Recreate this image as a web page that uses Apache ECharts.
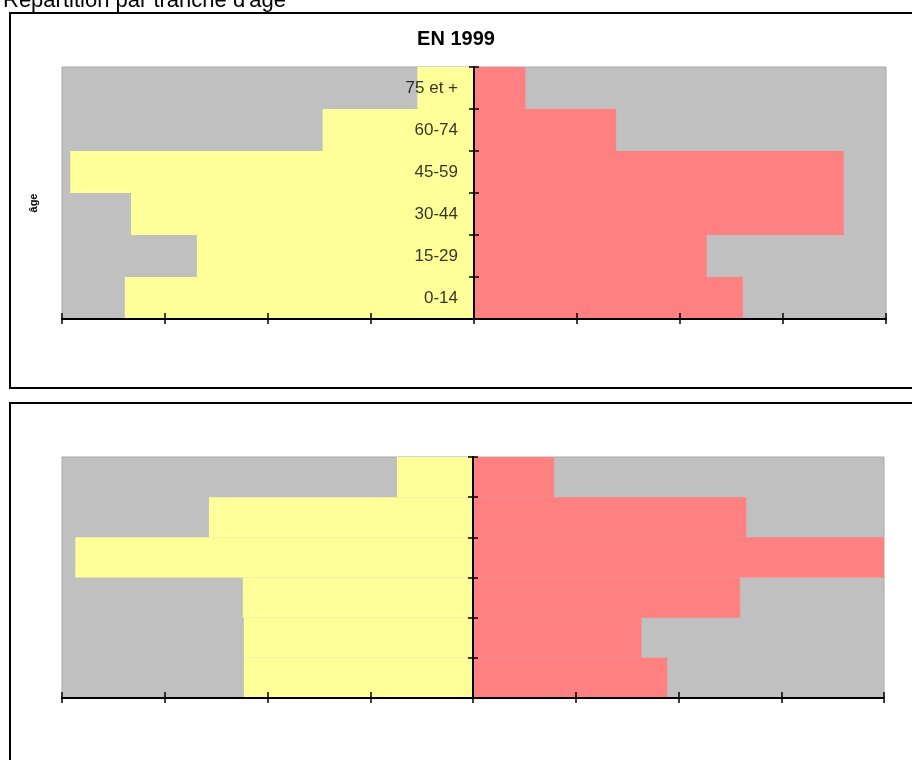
<!DOCTYPE html>
<html>
<head>
<meta charset="utf-8">
<title>Répartition par tranche d'âge</title>
<script src="https://cdn.jsdelivr.net/npm/echarts@6/dist/echarts.min.js"></script>
<style>
  html, body { margin: 0; padding: 0; background: #ffffff; }
  #chart { width: 912px; height: 760px; }
</style>
</head>
<body>
<div id="chart"></div>
<script>
// Age groups, from youngest (bottom) to oldest (top)
const ageGroups = ['0-14', '15-29', '30-44', '45-59', '60-74', '75 et +'];

// Upper pyramid (1999): left side drawn as negative values
const left1999 = [339, 269, 333, 392, 147, 55];
const right1999 = [261, 226, 359, 359, 138, 50];

// Lower pyramid
const leftLower = [223, 223, 224, 387, 257, 74];
const rightLower = [189, 164, 260, 400, 266, 79];

// Horizontal scale (labels hidden)
const axisMin = -400;
const axisMax = 400;
const axisStep = 100;

const FONT = '"Liberation Sans", Arial, sans-serif';
const YELLOW = '#FFFF99';
const RED = '#FF8080';

const chart = echarts.init(document.getElementById('chart'), null, { renderer: 'canvas' });

function valueAxis(gridIndex, inner) {
  return {
    type: 'value', gridIndex: gridIndex, position: 'bottom', z: 5,
    min: axisMin, max: axisMax, interval: axisStep,
    axisLabel: { show: false },
    splitLine: { show: false },
    axisLine: { show: !inner, onZero: false, lineStyle: { color: '#000', width: 2 } },
    axisTick: { show: true, inside: inner, length: inner ? 6 : 5, lineStyle: { color: '#000', width: 1.5 } }
  };
}

function ageAxis(gridIndex, zeroOf, inner) {
  return {
    type: 'category', gridIndex: gridIndex, position: 'left', z: 5,
    data: ageGroups,
    boundaryGap: true,
    axisLine: { show: !inner, onZero: true, onZeroAxisIndex: zeroOf, lineStyle: { color: '#000', width: 2 } },
    axisTick: { show: true, inside: inner, length: 5, lineStyle: { color: '#000', width: 1.5 } },
    axisLabel: { show: false },
    splitLine: { show: false }
  };
}

function barSeries(values, sign, color, xi, yi) {
  return {
    type: 'bar', xAxisIndex: xi, yAxisIndex: yi,
    data: values.map(v => sign * v),
    itemStyle: { color: color },
    barGap: '-100%', barCategoryGap: 0,
    clip: true, silent: true
  };
}

// Age labels sit just left of the centre axis of the upper pyramid
const ageLabelSeries = {
  type: 'scatter', xAxisIndex: 0, yAxisIndex: 0, z: 6, silent: true,
  symbolSize: 0,
  data: ageGroups.map(a => [0, a]),
  label: {
    show: true, position: 'left', distance: 16,
    color: '#000', fontSize: 17, fontFamily: FONT,
    formatter: p => p.value[1]
  }
};

chart.setOption({
  animation: false,
  backgroundColor: '#ffffff',
  title: {
    text: 'EN 1999', left: 'center', top: 29, padding: 0,
    textStyle: { fontFamily: FONT, fontSize: 20, fontWeight: 'bold', color: '#000' }
  },
  grid: [
    { left: 62, top: 67, width: 824, height: 252, outerBoundsMode: 'none', containLabel: false, show: true, backgroundColor: '#C0C0C0', borderColor: '#A8A8A8', borderWidth: 1 },
    { left: 62, top: 457, width: 822, height: 241, outerBoundsMode: 'none', containLabel: false, show: true, backgroundColor: '#C0C0C0', borderColor: '#A8A8A8', borderWidth: 1 }
  ],
  xAxis: [valueAxis(0, false), valueAxis(0, true), valueAxis(1, false), valueAxis(1, true)],
  yAxis: [ageAxis(0, 0, false), ageAxis(0, 0, true), ageAxis(1, 2, false), ageAxis(1, 2, true)],
  series: [
    barSeries(left1999, -1, YELLOW, 0, 0),
    barSeries(right1999, 1, RED, 0, 0),
    barSeries(leftLower, -1, YELLOW, 2, 2),
    barSeries(rightLower, 1, RED, 2, 2),
    ageLabelSeries
  ],
  graphic: [
    {
      type: 'text', x: 3, y: -10, silent: true,
      style: { text: 'Répartition par tranche d\'âge', fontSize: 22, fontFamily: FONT, fill: '#000', verticalAlign: 'top' }
    },
    {
      type: 'rect', silent: true,
      shape: { x: 10, y: 13, width: 1000, height: 375 },
      style: { fill: 'none', stroke: '#000', lineWidth: 2 }
    },
    {
      type: 'rect', silent: true,
      shape: { x: 10, y: 403, width: 1000, height: 500 },
      style: { fill: 'none', stroke: '#000', lineWidth: 2 }
    },
    {
      type: 'text', x: 34, y: 203, rotation: Math.PI / 2, silent: true,
      style: { text: 'âge', fontSize: 11, fontWeight: 'bold', fontFamily: FONT, fill: '#000', align: 'center', verticalAlign: 'middle' }
    }
  ]
});
</script>
</body>
</html>
